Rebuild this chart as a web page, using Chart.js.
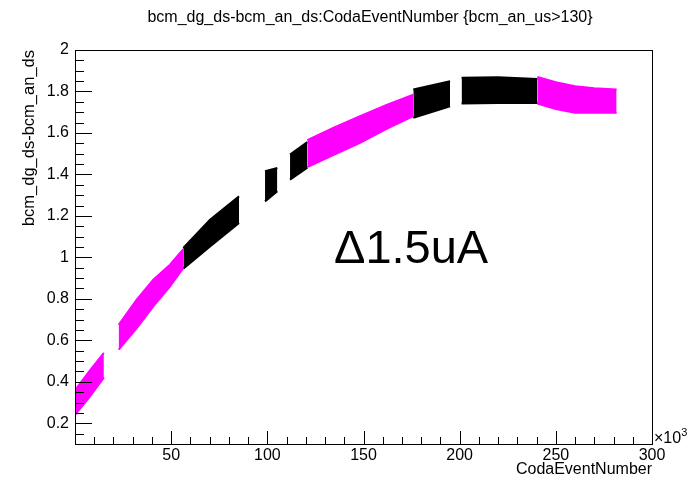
<!DOCTYPE html>
<html>
<head>
<meta charset="utf-8">
<script src="https://cdn.jsdelivr.net/npm/chart.js@4.4.1/dist/chart.umd.min.js"></script>
<style>
  html, body { margin: 0; padding: 0; background: #fff; }
  #wrap { width: 688px; height: 482px; }
</style>
</head>
<body>
<div id="wrap"><canvas id="canvas"></canvas></div>
<script>
// CodaEventNumber (x10^3) along each run block, and the upper / lower edge of the band
var blockX = [
  [0, 7.3, 15],
  [22.7, 32.1, 40.7, 49.4, 56.3],
  [56.3, 70.2, 85.3],
  [98.8, 105.2],
  [111.8, 120.8],
  [120.8, 134.5, 148.2, 162, 175.9],
  [175.9, 195],
  [201, 220, 240.4],
  [240.4, 250, 260, 270, 281.6]
];
var blockUpper = [
  [0.36, 0.449, 0.54],
  [0.675, 0.796, 0.892, 0.965, 1.04],
  [1.045, 1.182, 1.294],
  [1.415, 1.431],
  [1.496, 1.556],
  [1.565, 1.625, 1.681, 1.735, 1.785],
  [1.81, 1.849],
  [1.866, 1.868, 1.86],
  [1.87, 1.845, 1.825, 1.815, 1.809]
];
var blockLower = [
  [0.24, 0.323, 0.42],
  [0.555, 0.659, 0.764, 0.86, 0.949],
  [0.945, 1.053, 1.166],
  [1.27, 1.319],
  [1.375, 1.433],
  [1.435, 1.495, 1.552, 1.62, 1.681],
  [1.673, 1.729],
  [1.742, 1.745, 1.745],
  [1.742, 1.715, 1.697, 1.697, 1.697]
];
// which cut selection each block belongs to (1 = magenta, 0 = black)
var blockSel = [1, 1, 0, 0, 0, 1, 0, 0, 1];

var xTicks = [50, 100, 150, 200, 250, 300];
var yTicks = [0.2, 0.4, 0.6, 0.8, 1, 1.2, 1.4, 1.6, 1.8, 2];

var selColor = ['#000000', '#ff00ff'];
var FONT = '"Liberation Sans", Arial, Helvetica, sans-serif';

function pts(xs, ys) {
  var out = [];
  for (let i = 0; i < xs.length; i++) out.push({x: xs[i], y: ys[i]});
  return out;
}

var datasets = [];
for (let b = 0; b < blockX.length; b++) {
  let c = selColor[blockSel[b]];
  datasets.push({
    data: pts(blockX[b], blockUpper[b]),
    borderColor: c, borderWidth: 2, pointRadius: 0, fill: false, tension: 0
  });
  datasets.push({
    data: pts(blockX[b], blockLower[b]),
    borderColor: c, borderWidth: 2, pointRadius: 0, tension: 0,
    fill: '-1', backgroundColor: c
  });
}

// ROOT style frame, inside ticks and extra texts
var rootFrame = {
  id: 'rootFrame',
  afterDraw(chart) {
    let ctx = chart.ctx, a = chart.chartArea;
    let xs = chart.scales.x, ys = chart.scales.y;
    ctx.save();
    ctx.strokeStyle = '#000';
    ctx.lineWidth = 1;
    ctx.strokeRect(Math.round(a.left) + 0.5, Math.round(a.top) + 0.5,
      Math.round(a.right - a.left), Math.round(a.bottom - a.top));

    ctx.beginPath();
    for (let v = 0; v <= 300; v += 10) {
      let px = Math.round(xs.getPixelForValue(v)) + 0.5;
      let len = (v % 50 === 0) ? 13 : 7;
      ctx.moveTo(px, a.bottom);
      ctx.lineTo(px, a.bottom - len);
    }
    for (let k = 2; k <= 40; k++) {
      let v = k * 0.05;
      let py = Math.round(ys.getPixelForValue(v)) + 0.5;
      let len = (k % 4 === 0) ? 17 : 9;
      ctx.moveTo(a.left, py);
      ctx.lineTo(a.left + len, py);
    }
    ctx.stroke();

    ctx.fillStyle = '#000';
    ctx.textBaseline = 'middle';
    ctx.textAlign = 'center';
    ctx.font = '16px ' + FONT;
    ctx.fillText('bcm_dg_ds-bcm_an_ds:CodaEventNumber {bcm_an_us>130}', 370, 18);

    ctx.textAlign = 'left';
    ctx.font = '16px ' + FONT;
    let w = ctx.measureText('\u00d710').width;
    ctx.fillText('\u00d710', a.right + 2, a.bottom - 5);
    ctx.font = '11px ' + FONT;
    ctx.fillText('3', a.right + 2 + w, a.bottom - 11);

    ctx.font = '47px ' + FONT;
    ctx.fillText('\u03941.5uA', 334, 250);
    ctx.restore();
  }
};

new Chart(document.getElementById('canvas'), {
  type: 'line',
  data: { datasets: datasets },
  options: {
    responsive: true,
    maintainAspectRatio: false,
    animation: false,
    layout: { padding: { top: 50, right: 36, left: 0, bottom: 0 } },
    plugins: { legend: { display: false }, tooltip: { enabled: false } },
    scales: {
      x: {
        type: 'linear', min: 0, max: 300,
        afterFit(s) { s.height = 38; },
        afterBuildTicks(s) { s.ticks = xTicks.map(v => ({value: v})); },
        grid: { display: false, drawTicks: false }, border: { display: false },
        ticks: { color: '#000', font: { family: FONT, size: 16 }, padding: 2, maxRotation: 0,
          callback: v => String(v) },
        title: { display: true, text: 'CodaEventNumber', align: 'end', color: '#000',
          font: { family: FONT, size: 16 }, padding: { top: 0, bottom: 3 } }
      },
      y: {
        type: 'linear', min: 0.1, max: 2,
        afterFit(s) { s.width = 75; },
        afterBuildTicks(s) { s.ticks = yTicks.map(v => ({value: v})); },
        grid: { display: false, drawTicks: false }, border: { display: false },
        ticks: { color: '#000', font: { family: FONT, size: 16 }, padding: 6,
          callback: v => String(+v.toFixed(2)) },
        title: { display: true, text: 'bcm_dg_ds-bcm_an_ds', align: 'end', color: '#000',
          font: { family: FONT, size: 16.5 }, padding: { top: 20, bottom: 0 } }
      }
    }
  },
  plugins: [rootFrame]
});
</script>
</body>
</html>
